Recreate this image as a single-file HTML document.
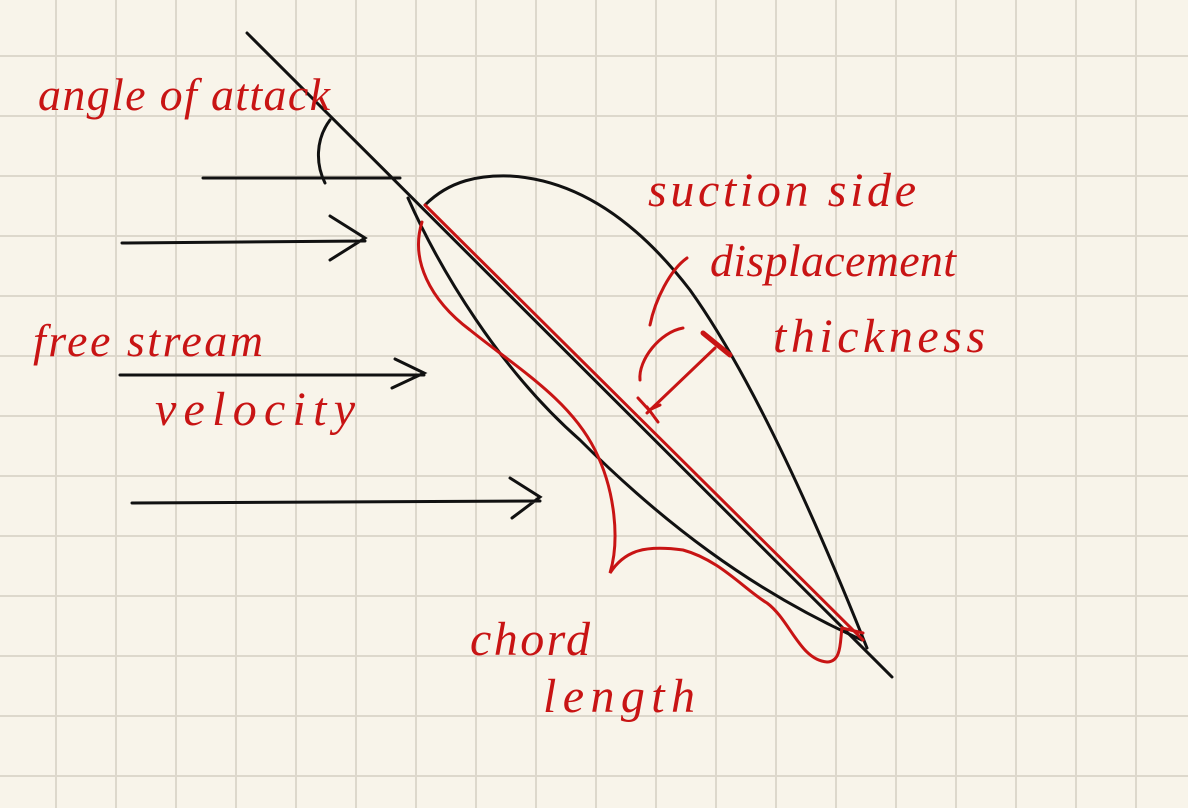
<!DOCTYPE html>
<html><head><meta charset="utf-8"><style>
html,body{margin:0;padding:0;background:#f8f4ea;}
svg{display:block;}
.t{font-family:"Liberation Serif",serif;font-style:italic;fill:#c81414;}
</style></head><body>
<svg width="1188" height="808" viewBox="0 0 1188 808">
<rect width="1188" height="808" fill="#f8f4ea"/>
<g id="grid" stroke="#ddd8cc" stroke-width="2"></g>
<g fill="none" stroke="#111" stroke-width="3" stroke-linecap="round">
<line x1="247" y1="33" x2="892" y2="677"/>
<line x1="203" y1="178" x2="400" y2="178"/>
<path d="M330,120 C315,140 316,165 325,183"/>
<path d="M122,243 L365,241 M330,216 L365,238 L330,260"/>
<path d="M120,375 L424,375 M395,359 L424,373 L392,388"/>
<path d="M132,503 L540,501 M510,478 L540,497 L512,518"/>
<path d="M425,205 C450,180 480,175 510,176 C580,180 640,225 690,290 C740,360 800,480 867,648"/>
<path d="M408,198 C440,270 500,370 580,440 C660,520 750,590 862,640"/>
</g>
<g fill="none" stroke="#c81414" stroke-width="3" stroke-linecap="round">
<line x1="425" y1="205" x2="863" y2="640"/>
<path d="M422,222 C410,260 430,300 470,330 C520,370 570,400 595,450 C615,490 620,540 610,573 C625,550 645,545 683,550 C720,560 745,590 767,603 C790,620 800,660 827,662 C842,662 840,640 842,628 L863,633"/>
<path d="M647,413 L715,348"/>
<path d="M703,333 L730,355" stroke-width="5"/>
<path d="M638,398 L649,410 L660,405 M647,407 L658,422"/>
<path d="M687,258 C670,270 655,300 650,325"/>
<path d="M683,328 C660,332 638,360 640,380"/>
</g>
<text class="t" x="38" y="110" font-size="46" textLength="292">angle of attack</text>
<text class="t" x="648" y="206" font-size="48" textLength="268">suction side</text>
<text class="t" x="710" y="276" font-size="46" textLength="246">displacement</text>
<text class="t" x="773" y="352" font-size="48" textLength="212">thickness</text>
<text class="t" x="33" y="356" font-size="46" textLength="230">free stream</text>
<text class="t" x="155" y="425" font-size="48" textLength="200">velocity</text>
<text class="t" x="470" y="655" font-size="48" textLength="120">chord</text>
<text class="t" x="543" y="712" font-size="48" textLength="152">length</text>
</svg>
<script>
const g=document.getElementById('grid');
for(let x=56;x<1188;x+=60){const l=document.createElementNS('http://www.w3.org/2000/svg','line');
l.setAttribute('x1',x);l.setAttribute('x2',x);l.setAttribute('y1',0);l.setAttribute('y2',808);


g.appendChild(l);}
for(let y=56;y<808;y+=60){const l=document.createElementNS('http://www.w3.org/2000/svg','line');
l.setAttribute('y1',y);l.setAttribute('y2',y);l.setAttribute('x1',0);l.setAttribute('x2',1188);


g.appendChild(l);}
</script>
</body></html>
